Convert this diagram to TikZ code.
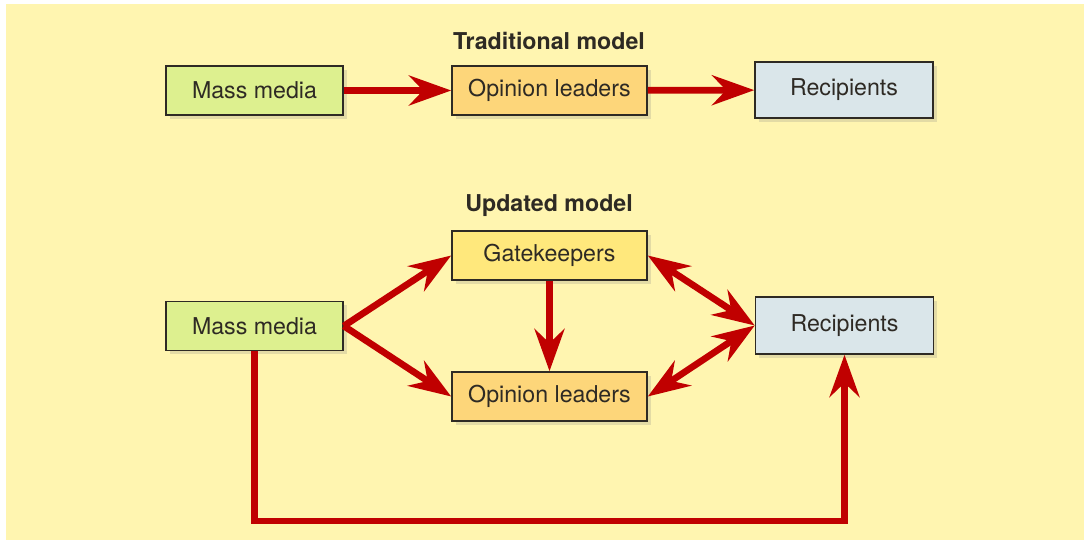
\documentclass[tikz,border=0pt]{standalone}
\usepackage{fontspec}
\setmainfont{TeX Gyre Heros}
\usepackage{xcolor}
\usetikzlibrary{arrows.meta, shadows}

\definecolor{paper}{HTML}{FFF5B0}
\definecolor{arrowred}{HTML}{C00000}
\definecolor{inkgray}{HTML}{2E2A24}
\definecolor{mediagreen}{HTML}{DDF08F}
\definecolor{leaderorange}{HTML}{FDD67A}
\definecolor{keeperyellow}{HTML}{FFE87C}
\definecolor{recipblue}{HTML}{DAE6EA}

\tikzset{
	box/.style={draw=inkgray, line width=0.9pt, text=inkgray, minimum height=0.98cm,
		font=\fontsize{13.2}{15}\selectfont,
		drop shadow={shadow xshift=2pt, shadow yshift=-2pt, opacity=0.22}},
	heading/.style={text=inkgray, font=\fontsize{13.2}{15}\selectfont\bfseries},
	redarrow/.style={draw=arrowred, line width=3.8pt,
		-{Stealth[length=24pt, width=17pt, inset=8pt]}},
	redboth/.style={draw=arrowred, line width=3.8pt,
		{Stealth[length=24pt, width=17pt, inset=8pt]}-{Stealth[length=24pt, width=17pt, inset=8pt]}}
}

\begin{document}
\begin{tikzpicture}[x=0.02cm, y=-0.02cm]
		%page and background
		\useasboundingbox (0,0) rectangle (1084,540);
		\fill [paper] (6,4) rectangle (1084,540);
		
		%traditional model
		\node [heading] (tradtitle) at (549,41) {Traditional model};
		\node [box, fill=mediagreen, minimum width=3.54cm] (tmedia) at (254.5,90.5) {Mass media};
		\node [box, fill=leaderorange, minimum width=3.9cm] (tleaders) at (549.5,90.5) {Opinion leaders};
		\node [box, fill=recipblue, minimum width=3.56cm, minimum height=1.12cm] (trecip) at (844,90) {Recipients};
		
		\draw [redarrow] (tmedia) -- (tleaders);
		\draw [redarrow] (tleaders) -- (trecip);
		
		%updated model
		\node [heading] (updtitle) at (549,206) {Updated model};
		\node [box, fill=keeperyellow, minimum width=3.9cm] (ukeepers) at (549.5,255.5) {Gatekeepers};
		\node [box, fill=mediagreen, minimum width=3.54cm] (umedia) at (254.5,326) {Mass media};
		\node [box, fill=leaderorange, minimum width=3.9cm] (uleaders) at (549.5,396.5) {Opinion leaders};
		\node [box, fill=recipblue, minimum width=3.56cm, minimum height=1.14cm] (urecip) at (844.5,325.5) {Recipients};
		
		\draw [redarrow] (umedia.east) -- (ukeepers.west);
		\draw [redarrow] (umedia.east) -- (uleaders.west);
		\draw [redarrow] (ukeepers.south) -- (uleaders.north);
		\draw [redboth] (ukeepers.east) -- (urecip.west);
		\draw [redboth] (uleaders.east) -- (urecip.west);
		
		%direct route along the bottom
		\coordinate (corner) at (254.5,521);
		\draw [redarrow] (umedia.south) -- (corner) -| (urecip.south);
	\end{tikzpicture}
\end{document}
